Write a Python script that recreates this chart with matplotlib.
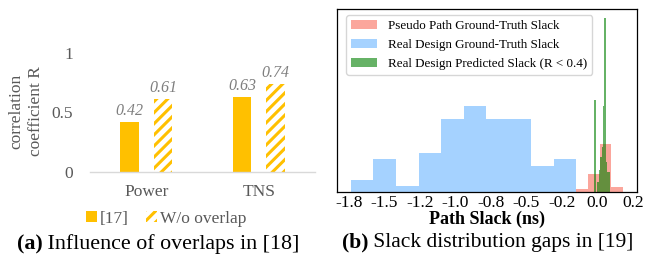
import numpy as np
import matplotlib
matplotlib.use('Agg')
import matplotlib.pyplot as plt
from matplotlib.ticker import FormatStrFormatter, MultipleLocator

# ---------------- data: panel (a) ----------------
categories = ['Power', 'TNS']
r_ref17 = [0.42, 0.63]
r_wo_overlap = [0.61, 0.74]
series_names = ['[17]', 'W/o overlap']
a_yticks = [0, 0.5, 1]
a_yticklabels = ['0', '0.5', '1']

# ---------------- data: panel (b) ----------------
blue_edges = [-1.737, -1.578, -1.419, -1.260, -1.101, -0.942, -0.784,
              -0.625, -0.466, -0.307, -0.148]
blue_heights = [12.5, 33, 6.5, 39.5, 73, 86.5, 73, 73, 26.5, 33]
red_edges = [-0.148, -0.065, 0.017, 0.099, 0.183]
red_heights = [3.5, 18.5, 48, 5.5]
green_edges = [-0.021, -0.011, -0.001, 0.009, 0.019, 0.029, 0.039, 0.049,
               0.059, 0.069, 0.079, 0.089]
green_heights = [92, 0, 10, 22, 35, 45, 86, 174, 30, 20, 20]
hist_labels = ['Pseudo Path Ground-Truth Slack',
               'Real Design Ground-Truth Slack',
               'Real Design Predicted Slack (R < 0.4)']

plt.rcParams['font.family'] = ['Liberation Serif', 'DejaVu Serif']
plt.rcParams['hatch.linewidth'] = 2.2

W, H = 649, 259
fig = plt.figure(figsize=(W / 100, H / 100), dpi=100)

def px_axes(l, r, t, b):
    return fig.add_axes([l / W, 1 - b / H, (r - l) / W, (b - t) / H])

GOLD = '#FFC000'
GRAY = '#595959'

# ---------------- panel (a) ----------------
axa = px_axes(90, 315, 52.7, 171.7)
x = np.arange(len(categories))
bw = 0.164
off = 0.148
b1 = axa.bar(x - off, r_ref17, bw, color=GOLD, linewidth=0, label=series_names[0])
b2 = axa.bar(x + off, r_wo_overlap, bw, color='white', edgecolor=GOLD,
             hatch='///', linewidth=0, label=series_names[1])
for xs, vals in ((x - off, r_ref17), (x + off, r_wo_overlap)):
    for xi, v in zip(xs, vals):
        axa.annotate(f'{v:.2f}', (xi, v), xytext=(0, 2), textcoords='offset points',
                     ha='center', va='bottom', fontsize=11.5, style='italic',
                     color='#7f7f7f', annotation_clip=False)
axa.set_xlim(-0.5, 1.5)
axa.set_ylim(0, 1)
axa.set_yticks(a_yticks)
axa.set_yticklabels(a_yticklabels)
axa.set_xticks(x)
axa.set_xticklabels(categories)
axa.tick_params(axis='y', length=0, pad=12, labelsize=12.5, labelcolor=GRAY)
axa.tick_params(axis='x', length=0, pad=9, labelsize=12.5, labelcolor=GRAY)
for s in ('top', 'right', 'left'):
    axa.spines[s].set_visible(False)
axa.spines['bottom'].set_color('#d9d9d9')
axa.spines['bottom'].set_linewidth(1)
axa.patch.set_alpha(0)
fig.text(26 / W, 1 - 111 / H, 'correlation\ncoefficient R', rotation=90,
         ha='center', va='center', multialignment='center', fontsize=12.5,
         color=GRAY, linespacing=1.3)
fig.legend(handles=[b1, b2], labels=series_names, loc='center',
           bbox_to_anchor=(166.5 / W, 1 - 219 / H), ncol=2, frameon=False,
           fontsize=12.5, handlelength=0.6, handleheight=0.6, handletextpad=0.2,
           columnspacing=1.0, labelcolor=GRAY, borderpad=0)

# ---------------- panel (b) ----------------
axb = px_axes(337.3, 637, 9, 192.3)

def centers(e):
    e = np.asarray(e)
    return (e[:-1] + e[1:]) / 2

axb.hist(centers(red_edges), bins=red_edges, weights=red_heights,
         color='salmon', alpha=0.7, label=hist_labels[0])
axb.hist(centers(blue_edges), bins=blue_edges, weights=blue_heights,
         color='dodgerblue', alpha=0.4, label=hist_labels[1])
axb.hist(centers(green_edges), bins=green_edges, weights=green_heights,
         color='green', alpha=0.6, label=hist_labels[2])
axb.margins(x=0.05, y=0.05)
axb.set_ylim(bottom=0)
axb.xaxis.set_major_locator(MultipleLocator(0.25))
axb.xaxis.set_major_formatter(FormatStrFormatter('%.1f'))
axb.set_yticks([])
axb.tick_params(axis='x', length=0, pad=2, labelsize=12.5)
for s in axb.spines.values():
    s.set_color('black')
    s.set_linewidth(0.9)
axb.set_xlabel('Path Slack (ns)', fontsize=13, fontweight='bold', labelpad=0)
axb.legend(loc='upper left', bbox_to_anchor=(346 / W, 1 - 15 / H),
           bbox_transform=fig.transFigure, borderaxespad=0, fontsize=9.4,
           fancybox=True, framealpha=0.8, edgecolor='#cccccc')

# ---------------- captions ----------------
def caption(xl, yc, bold, rest, size):
    t1 = fig.text(xl / W, 1 - yc / H, bold, fontsize=size, fontweight='bold',
                  ha='left', va='center')
    fig.canvas.draw()
    bb = t1.get_window_extent()
    fig.text(bb.x1 / W, 1 - yc / H, rest, fontsize=size, ha='left', va='center')

caption(16.7, 244, '(a)', ' Influence of overlaps in [18]', 15.8)
caption(341.7, 242, '(b)', ' Slack distribution gaps in [19]', 15.5)

fig.savefig('out.png', dpi=100)
